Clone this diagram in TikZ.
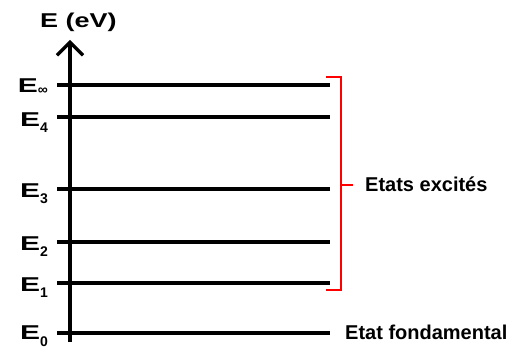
\documentclass[tikz,border=0pt]{standalone}
\usepackage{fontspec}
\setmainfont{Liberation Sans}
\usetikzlibrary{arrows.meta,positioning,calc}
\tikzstyle{niveau}=[line width=3.2pt]
\tikzstyle{axe}=[line width=3.2pt,-{Straight Barb[length=13pt,width=26pt]}]
\tikzstyle{accolade}=[red,line width=2.7pt]
\tikzstyle{etiq}=[font=\fontsize{20}{20}\selectfont\bfseries,anchor=base east,inner sep=0pt]
\tikzstyle{texte}=[font=\fontsize{20}{20}\selectfont\bfseries,anchor=base west,inner sep=0pt]
\newcommand{\En}[2][-6pt]{\scalebox{1.5}[1]{E}\raisebox{#1}{\fontsize{14}{14}\selectfont #2}}

\begin{document}
\begin{tikzpicture}[x=1pt,y=-1pt]
    \useasboundingbox (0,0) rectangle (527,352);
    % axe des energies
    \coordinate (bas) at (70,342);
    \coordinate (haut) at (70,40);
    \draw[axe] (bas) -- (haut);
    \node[texte] (unite) at (40,28) {\scalebox{1.35}[1]{E (eV)}};
    % niveaux
    \coordinate (d0) at (57,333);
    \coordinate (f0) at (330,333);
    \coordinate (d1) at (57,283);
    \coordinate (f1) at (330,283);
    \coordinate (d2) at (57,242);
    \coordinate (f2) at (330,242);
    \coordinate (d3) at (57,189);
    \coordinate (f3) at (330,189);
    \coordinate (d4) at (57,117);
    \coordinate (f4) at (330,117);
    \coordinate (dinf) at (57,85);
    \coordinate (finf) at (330,85);
    \draw[niveau] (d0) -- (f0);
    \draw[niveau] (d1) -- (f1);
    \draw[niveau] (d2) -- (f2);
    \draw[niveau] (d3) -- (f3);
    \draw[niveau] (d4) -- (f4);
    \draw[niveau] (dinf) -- (finf);
    \node[etiq] (e0) at (48,340) {\En{0}};
    \node[etiq] (e1) at (48,292) {\En{1}};
    \node[etiq] (e2) at (48,251) {\En{2}};
    \node[etiq] (e3) at (48,198) {\En{3}};
    \node[etiq] (e4) at (48,127) {\En{4}};
    \node[etiq] (einf) at (48,93) {\En[-2pt]{∞}};
    % accolade des etats excites
    \coordinate (acc1) at (326,77);
    \coordinate (acc2) at (341,77);
    \coordinate (acc3) at (341,290);
    \coordinate (acc4) at (326,290);
    \coordinate (milieu) at (341,185);
    \coordinate (pointe) at (353,185);
    \draw[accolade] (acc1) -- (acc2) -- (acc3) -- (acc4);
    \draw[accolade] (milieu) -- (pointe);
    \node[texte] (excites) at (365,192) {Etats excités};
    \node[texte] (fond) at (345,340) {Etat fondamental};
\end{tikzpicture}
\end{document}
